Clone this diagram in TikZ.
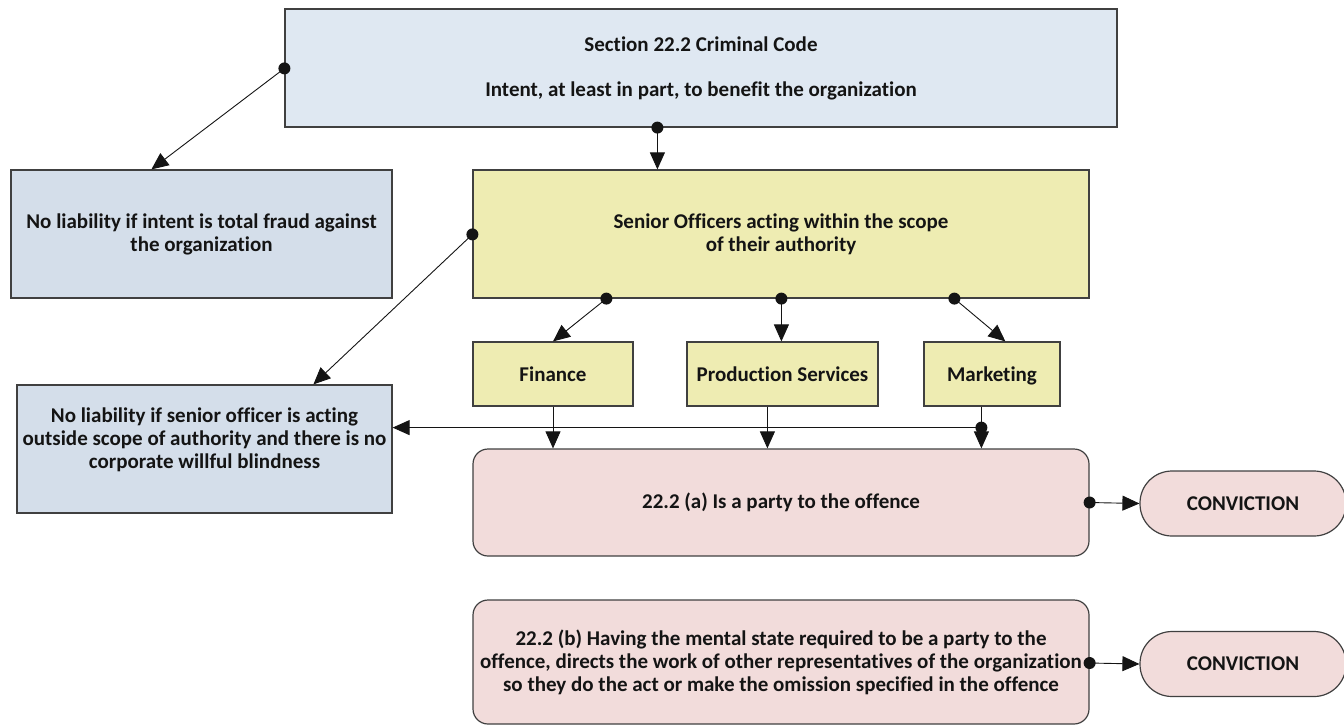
\documentclass[tikz,border=0pt]{standalone}
\usepackage{fontspec}
\setmainfont{Carlito}[Ligatures=NoCommon]
\usetikzlibrary{arrows.meta,calc}

\definecolor{topblue}{HTML}{DFE8F2}
\definecolor{sideblue}{HTML}{D4DEEA}
\definecolor{officer}{HTML}{EEECB2}
\definecolor{offence}{HTML}{F2DCDB}
\definecolor{edge}{HTML}{404040}
\definecolor{ink}{HTML}{141414}

\tikzset{
  basebox/.style={draw=edge, line width=1.2pt, text=ink, align=center,
    inner sep=2pt, font=\fontsize{21}{23}\selectfont\bfseries},
  blueboxa/.style={basebox, fill=topblue},
  blueboxb/.style={basebox, fill=sideblue},
  officerbox/.style={basebox, fill=officer},
  unitbox/.style={officerbox, minimum height=64pt, text depth=0pt},
  offencebox/.style={basebox, fill=offence, rounded corners=15pt},
  verdict/.style={basebox, fill=offence, rounded corners=32pt,
    minimum width=206pt, minimum height=65pt},
  dot/.style={circle, fill=ink, inner sep=0pt, minimum size=12pt},
  link/.style={draw=ink, line width=0.9pt, -{Triangle[length=17pt,width=15pt]}}
}

\begin{document}
\begin{tikzpicture}[x=1pt,y=-1pt]
\useasboundingbox (0,0) rectangle (1344,724);

% statutory test
\node[blueboxa, minimum width=832pt, minimum height=118pt] (code) at (701,68)
  {Section 22.2 Criminal Code\\[22pt]Intent, at least in part, to benefit the organization};

% exclusions
\node[blueboxb, minimum width=381pt, minimum height=128pt] (fraud) at (201.5,234)
  {No liability if intent is total fraud against\\the organization};
\node[blueboxb, minimum width=375pt, minimum height=128pt] (scope) at (204.5,449)
  {No liability if senior officer is acting\\outside scope of authority and there is no\\corporate willful blindness\\[-9pt]\strut};

% senior officers and departments
\node[officerbox, minimum width=616pt, minimum height=128pt] (senior) at (781,234)
  {Senior Officers acting within the scope\\of their authority};
\node[unitbox, minimum width=160pt] (fin) at (553,374) {Finance};
\node[unitbox, minimum width=191pt] (prod) at (782.5,374) {Production Services};
\node[unitbox, minimum width=136pt] (mkt) at (992,374) {Marketing};

% routes to liability
\node[offencebox, minimum width=616pt, minimum height=107pt] (partya) at (781,502.5)
  {22.2 (a) Is a party to the offence};
\node[offencebox, minimum width=616pt, minimum height=124pt, inner xsep=0pt] (partyb) at (781,662)
  {22.2 (b) Having the mental state required to be a party to the\\offence, directs the work of other representatives of the organization\\so they do the act or make the omission specified in the offence};

\node[verdict] (conva) at (1243,503.5) {CONVICTION};
\node[verdict] (convb) at (1243,664) {CONVICTION};

% connectors (a filled dot marks where each one leaves its source)
\draw[link] ($(code.north west)+(0,60)$) node[dot]{} -- ($(fraud.north west)+(141,0)$);
\draw[link] ($(code.south west)+(373,0)$) node[dot]{} -- ($(senior.north west)+(185,0)$);
\draw[link] ($(senior.north west)+(0,65)$) node[dot]{} -- ($(scope.north west)+(297,0)$);

\draw[link] ($(senior.south west)+(134,0)$) node[dot]{} -- (fin.north);
\draw[link] ($(senior.south west)+(309,0)$) node[dot]{} -- ($(prod.north west)+(95,0)$);
\draw[link] ($(senior.south west)+(482,0)$) node[dot]{} -- ($(mkt.north west)+(82,0)$);

\draw[link] (fin.south) -- (fin.south |- partya.north);
\draw[link] ($(prod.south west)+(81,0)$) -- ($(partya.north west)+(295,0)$);
\draw[link] ($(mkt.south west)+(58,0)$) -- ($(partya.north west)+(509,0)$);
\coordinate (split) at ($(mkt.south west)+(58,21)$);
\draw[link] (split) node[dot]{} -- (split -| scope.east);

\draw[link] (partya.east) node[dot]{} -- (conva.west);
\draw[link] ($(partyb.east)+(0,1)$) node[dot]{} -- (convb.west);
\end{tikzpicture}
\end{document}
